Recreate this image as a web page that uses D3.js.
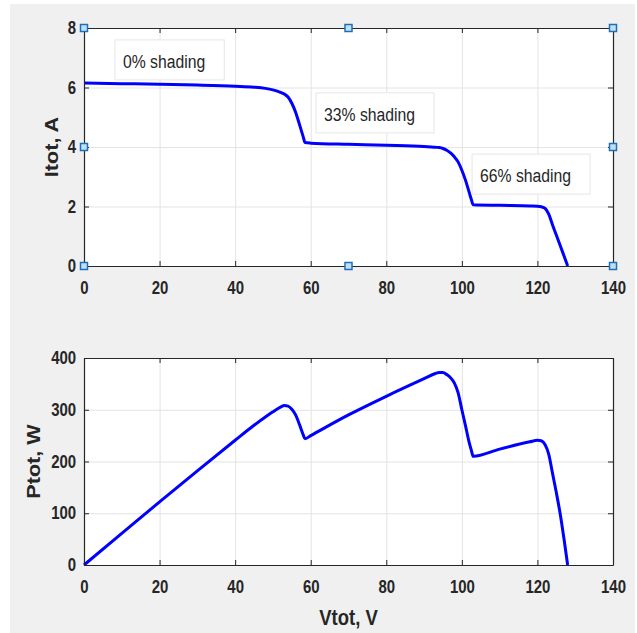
<!DOCTYPE html>
<html>
<head>
<meta charset="utf-8">
<script src="https://cdn.jsdelivr.net/npm/d3@7"></script>
<style>
  body { margin: 0; background: #fff; }
  svg { display: block; }
  text { font-family: "Liberation Sans", Arial, Helvetica, sans-serif; }
</style>
</head>
<body>
<div id="chart"></div>
<script>
// voltage samples (V) with current (A) and power (W)
const vtot = [0, 10, 20, 30, 40, 45, 48, 50, 52, 53, 54, 55, 56, 57, 58, 58.5, 60, 70, 80, 90, 93, 94, 95, 96, 97, 98, 99, 100, 101, 102, 102.5, 103, 110, 118, 120, 121, 122, 123, 124, 125, 126, 127, 128];
const itot = [6.15, 6.13, 6.11, 6.08, 6.04, 6.01, 5.97, 5.92, 5.84, 5.78, 5.68, 5.47, 5.17, 4.77, 4.35, 4.15, 4.13, 4.09, 4.06, 4.02, 3.99, 3.98, 3.95, 3.89, 3.8, 3.67, 3.5, 3.22, 2.87, 2.45, 2.24, 2.06, 2.04, 2.02, 2.01, 1.99, 1.94, 1.74, 1.38, 1.04, 0.7, 0.35, 0];
const ptot = [0, 61, 122, 182, 241, 270, 286, 296, 305, 308, 307, 301, 290, 272, 252, 244, 250, 290, 326, 360, 370, 372, 372, 368, 362, 352, 333, 300, 268, 235, 222, 210, 224, 238, 241, 240, 233, 214, 177, 140, 100, 52, 0];

const xTicks = [0, 20, 40, 60, 80, 100, 120, 140];
const iTicks = [0, 2, 4, 6, 8];
const pTicks = [0, 100, 200, 300, 400];

// annotation boxes (top-left corner in data units)
const annoText = ["0% shading", "33% shading", "66% shading"];
const annoV = [8.2, 61.4, 102.7];
const annoI = [7.6, 5.82, 3.76];

// square handles on the top axes
const markV = [0, 0, 0, 70, 140, 140, 140, 70];
const markI = [0, 4, 8, 8, 8, 4, 0, 0];

const W = 637, H = 633;
const sx = 0.88, sy = 1.03;
const inkColor = "#262626";

const svg = d3.select("#chart").append("svg")
    .attr("width", W)
    .attr("height", H);

svg.append("rect")
    .attr("x", 10).attr("y", 4)
    .attr("width", 625).attr("height", 629)
    .attr("fill", "#f0f0f0");

const left = 84, right = 613;

const x = d3.scaleLinear().domain([0, 140]).range([left, right]);

function makePanel(top, bottom, yDomain, yTicks, yData, yLabel, labelX) {
    const y = d3.scaleLinear().domain(yDomain).range([bottom, top]);
    const g = svg.append("g");
    const h = bottom - top, w = right - left;

    g.append("rect")
        .attr("x", left).attr("y", top)
        .attr("width", w).attr("height", h)
        .attr("fill", "#fff");

    // grid
    g.append("g")
        .attr("transform", `translate(0,${bottom})`)
        .call(d3.axisBottom(x).tickValues(xTicks).tickSize(-h).tickFormat(""))
        .call(a => a.select(".domain").remove())
        .selectAll("line").attr("stroke", "#e3e3e3");
    g.append("g")
        .attr("transform", `translate(${left},0)`)
        .call(d3.axisLeft(y).tickValues(yTicks).tickSize(-w).tickFormat(""))
        .call(a => a.select(".domain").remove())
        .selectAll("line").attr("stroke", "#e3e3e3");

    // curve
    const line = d3.line()
        .x((d, i) => x(vtot[i]))
        .y(d => y(d))
        .curve(d3.curveMonotoneX);
    g.append("path")
        .datum(yData)
        .attr("d", line)
        .attr("fill", "none")
        .attr("stroke", "#0000ff")
        .attr("stroke-width", 3)
        .attr("stroke-linejoin", "round");

    // axes, ticks pointing inward
    const styleAxis = a => {
        a.select(".domain").attr("stroke", inkColor).attr("stroke-width", 1.2);
        a.selectAll(".tick line").attr("stroke", inkColor);
        a.selectAll("text")
            .attr("fill", inkColor)
            .attr("font-size", 17)
            .attr("font-weight", "bold")
            .attr("transform", `scale(${sx},${sy})`);
    };
    g.append("g")
        .attr("transform", `translate(0,${bottom})`)
        .call(d3.axisBottom(x).tickValues(xTicks).tickSizeInner(-5).tickSizeOuter(0).tickPadding(15))
        .call(styleAxis);
    g.append("g")
        .attr("transform", `translate(0,${top})`)
        .call(d3.axisTop(x).tickValues(xTicks).tickSizeInner(-5).tickSizeOuter(0).tickFormat(""))
        .call(styleAxis);
    g.append("g")
        .attr("transform", `translate(${left},0)`)
        .call(d3.axisLeft(y).tickValues(yTicks).tickSizeInner(-5).tickSizeOuter(0).tickPadding(9))
        .call(styleAxis);
    g.append("g")
        .attr("transform", `translate(${right},0)`)
        .call(d3.axisRight(y).tickValues(yTicks).tickSizeInner(-5).tickSizeOuter(0).tickFormat(""))
        .call(styleAxis);

    g.append("text")
        .attr("transform", `translate(${labelX},${(top + bottom) / 2}) rotate(-90) scale(${sy},${sx})`)
        .attr("text-anchor", "middle")
        .attr("font-size", 21)
        .attr("font-weight", "bold")
        .attr("fill", inkColor)
        .text(yLabel);

    return y;
}

const yI = makePanel(28, 266, [0, 8], iTicks, itot, "Itot, A", 57.5);
const yP = makePanel(358, 565, [0, 400], pTicks, ptot, "Ptot, W", 39.5);

svg.append("text")
    .attr("transform", `translate(${(left + right) / 2},625) scale(${sx},${sy})`)
    .attr("text-anchor", "middle")
    .attr("font-size", 21)
    .attr("font-weight", "bold")
    .attr("fill", inkColor)
    .text("Vtot, V");

// annotation boxes
annoText.forEach((t, i) => {
    const bx = x(annoV[i]), by = yI(annoI[i]);
    const box = svg.append("rect")
        .attr("x", bx).attr("y", by)
        .attr("height", 40)
        .attr("fill", "#fff")
        .attr("stroke", "#e6e6e6")
        .attr("stroke-width", 1);
    const txt = svg.append("text")
        .attr("transform", `translate(${bx + 8},${by + 28}) scale(0.9,1.02)`)
        .attr("font-size", 17.5)
        .attr("fill", inkColor)
        .text(t);
    const tw = txt.node().getComputedTextLength() * 0.9;
    box.attr("width", tw + 27);
});

// square handles
svg.append("g").selectAll("rect")
    .data(markV)
    .join("rect")
    .attr("x", (d, i) => x(d) - 3.5)
    .attr("y", (d, i) => yI(markI[i]) - 3.5)
    .attr("width", 7)
    .attr("height", 7)
    .attr("fill", "#c2e0f4")
    .attr("stroke", "#1f6fb8")
    .attr("stroke-width", 1.5);
</script>
</body>
</html>
